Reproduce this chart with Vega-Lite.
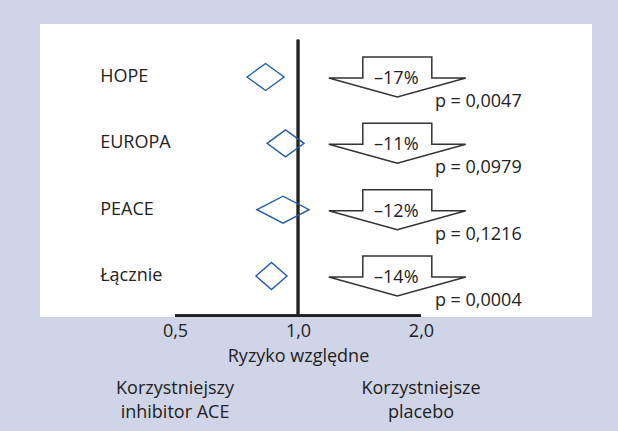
{
  "$schema": "https://vega.github.io/schema/vega-lite/v6.json",
  "width": 552,
  "height": 293,
  "autosize": {"type": "none"},
  "padding": {"left": 40, "top": 24, "right": 26, "bottom": 114},
  "background": "#cfd4e7",
  "config": {
    "view": {"fill": "white", "stroke": null},
    "text": {"font": "Open Sans", "fontSize": 18, "color": "#222222"},
    "axis": {"labelFont": "Open Sans", "titleFont": "Open Sans"}
  },
  "data": {
    "values": [
      {"study": "HOPE", "idx": 1, "rr": 0.833, "change": "–17%", "p": "p = 0,0047"},
      {"study": "EUROPA", "idx": 2, "rr": 0.932, "change": "–11%", "p": "p = 0,0979"},
      {"study": "PEACE", "idx": 3, "rr": 0.919, "change": "–12%", "p": "p = 0,1216"},
      {"study": "Łącznie", "idx": 4, "rr": 0.861, "change": "–14%", "p": "p = 0,0004"}
    ]
  },
  "layer": [
    {
      "mark": {"type": "rule", "color": "#222222", "strokeWidth": 2.5},
      "encoding": {
        "x": {"datum": 1, "type": "quantitative",
              "scale": {"type": "log", "domain": [0.2336, 5.243], "nice": false, "zero": false},
              "axis": {"values": [0.5, 1, 2], "domain": false, "ticks": false, "grid": false,
                       "labelExpr": "replace(format(datum.value, '.1f'), '.', ',')",
                       "labelFontSize": 18, "labelColor": "#222222", "labelPadding": 5,
                       "title": "Ryzyko względne", "titleFontSize": 18, "titleFontWeight": "normal",
                       "titleColor": "#222222", "titlePadding": 7, "titleX": 258, "titleAlign": "center"}},
        "y": {"datum": 0.44, "type": "quantitative",
              "scale": {"domain": [0.201, 4.618], "reverse": true, "nice": false, "zero": false},
              "axis": null},
        "y2": {"datum": 4.6}
      }
    },
    {
      "mark": {"type": "rule", "color": "#222222", "strokeWidth": 2.5},
      "encoding": {
        "x": {"datum": 0.5, "type": "quantitative"},
        "x2": {"datum": 2.0},
        "y": {"datum": 4.6, "type": "quantitative"}
      }
    },
    {
      "mark": {"type": "point", "filled": false, "stroke": "#1f5ca6", "strokeWidth": 1.4, "size": 729, "opacity": 1},
      "encoding": {
        "x": {"field": "rr", "type": "quantitative"},
        "y": {"field": "idx", "type": "quantitative"},
        "shape": {"field": "study", "type": "nominal", "legend": null,
                  "scale": {"domain": ["HOPE", "EUROPA", "PEACE", "Łącznie"],
                            "range": ["M-1.37,0L0,-1L1.37,0L0,1Z", "M-1.37,0L0,-1L1.37,0L0,1Z",
                                      "M-1.93,0L0,-1L1.93,0L0,1Z", "M-1.15,0L0,-1L1.15,0L0,1Z"]}}
      }
    },
    {
      "mark": {"type": "point", "filled": true, "fill": "white", "stroke": "#333333", "strokeWidth": 1.5,
               "size": 1600, "opacity": 1,
               "shape": "M-1.725,-1L1.725,-1L1.725,0.05L3.425,0.05L0,1L-3.425,0.05L-1.725,0.05Z"},
      "encoding": {
        "x": {"datum": 1.75, "type": "quantitative"},
        "y": {"field": "idx", "type": "quantitative"}
      }
    },
    {
      "mark": {"type": "text", "align": "center", "baseline": "middle", "dy": 2},
      "encoding": {
        "x": {"datum": 1.74, "type": "quantitative"},
        "y": {"field": "idx", "type": "quantitative"},
        "text": {"field": "change"}
      }
    },
    {
      "mark": {"type": "text", "align": "left", "baseline": "middle", "dy": 25},
      "encoding": {
        "x": {"datum": 2.163, "type": "quantitative"},
        "y": {"field": "idx", "type": "quantitative"},
        "text": {"field": "p"}
      }
    },
    {
      "mark": {"type": "text", "align": "left", "baseline": "middle"},
      "encoding": {
        "x": {"datum": 0.328, "type": "quantitative"},
        "y": {"field": "idx", "type": "quantitative"},
        "text": {"field": "study"}
      }
    },
    {
      "data": {"values": [
        {"label": "Korzystniejszy\ninhibitor ACE", "anchor": 0.5},
        {"label": "Korzystniejsze\nplacebo", "anchor": 2.0}
      ]},
      "mark": {"type": "text", "align": "center", "baseline": "top", "lineBreak": "\n", "lineHeight": 24},
      "encoding": {
        "x": {"field": "anchor", "type": "quantitative"},
        "y": {"datum": 5.57, "type": "quantitative"},
        "text": {"field": "label"}
      }
    }
  ]
}
